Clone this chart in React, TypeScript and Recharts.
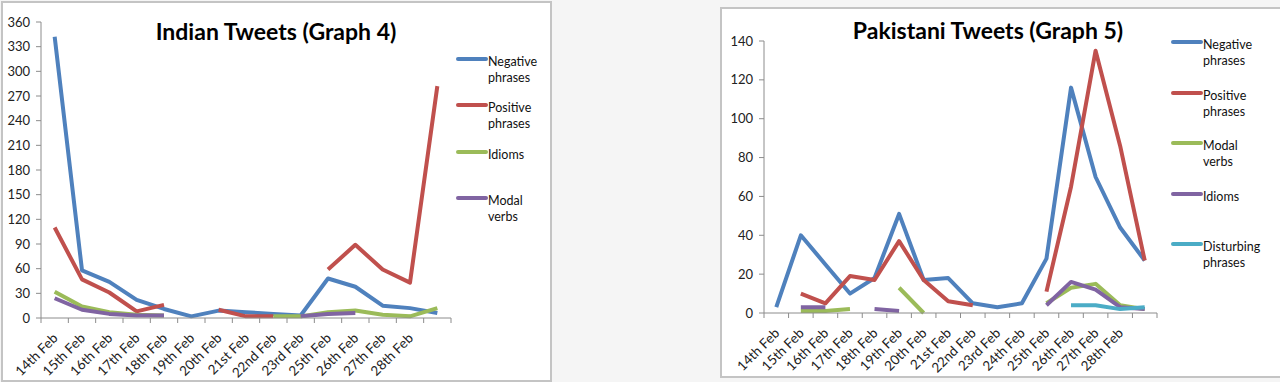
import React from 'react';
import { LineChart, Line, XAxis, YAxis } from 'recharts';

// Indian tweets (graph 4)
const indianDays = ['14th Feb', '15th Feb', '16th Feb', '17th Feb', '18th Feb', '19th Feb', '20th Feb', '21st Feb', '22nd Feb', '23rd Feb', '25th Feb', '26th Feb', '27th Feb', '28th Feb', ''];
const indianNegative = [342, 58, 44, 22, 11, 2, 9, 7, 5, 3, 48, 38, 15, 12, 6];
const indianPositive = [110, 47, 31, 8, 16, null, 10, 2, 2, null, 59, 89, 59, 43, 282];
const indianIdioms = [32, 14, 7, 4, 3, null, null, null, 2, 2, 7, 9, 4, 2, 12];
const indianModal = [24, 10, 5, 3, 3, null, null, null, null, 2, 5, 6, null, null, null];
const indianTicks = [0, 30, 60, 90, 120, 150, 180, 210, 240, 270, 300, 330, 360];

// Pakistani tweets (graph 5)
const pakDays = ['14th Feb', '15th Feb', '16th Feb', '17th Feb', '18th Feb', '19th Feb', '20th Feb', '21st Feb', '22nd Feb', '23rd Feb', '24th Feb', '25th Feb', '26th Feb', '27th Feb', '28th Feb', ''];
const pakNegative = [3, 40, 25, 10, 18, 51, 17, 18, 5, 3, 5, 28, 116, 70, 44, 27];
const pakPositive = [null, 10, 5, 19, 17, 37, 17, 6, 4, null, null, 11, 65, 135, 86, 27];
const pakModal = [null, 1, 1, 2, null, 13, 0, null, null, null, null, 5, 13, 15, 4, 2];
const pakIdioms = [null, 3, 3, null, 2, 1, null, null, null, null, null, 4, 16, 12, 3, 2];
const pakDisturbing = [null, null, null, null, null, null, null, null, null, null, null, null, 4, 4, 2, 3];
const pakTicks = [0, 20, 40, 60, 80, 100, 120, 140];

const BLUE = '#4f81bd';
const RED = '#c0504d';
const GREEN = '#9bbb59';
const PURPLE = '#8064a2';
const CYAN = '#4bacc6';
const FONT = 'Lato, "Open Sans", sans-serif';

const indianData = indianDays.map((day, i) => ({
  day,
  neg: indianNegative[i],
  pos: indianPositive[i],
  idioms: indianIdioms[i],
  modal: indianModal[i],
}));

const pakData = pakDays.map((day, i) => ({
  day,
  neg: pakNegative[i],
  pos: pakPositive[i],
  modal: pakModal[i],
  idioms: pakIdioms[i],
  dist: pakDisturbing[i],
}));

const indianSeries = [
  { key: 'neg', name: 'Negative phrases', color: BLUE },
  { key: 'pos', name: 'Positive phrases', color: RED },
  { key: 'idioms', name: 'Idioms', color: GREEN },
  { key: 'modal', name: 'Modal verbs', color: PURPLE },
];

const pakSeries = [
  { key: 'neg', name: 'Negative phrases', color: BLUE },
  { key: 'pos', name: 'Positive phrases', color: RED },
  { key: 'modal', name: 'Modal verbs', color: GREEN },
  { key: 'idioms', name: 'Idioms', color: PURPLE },
  { key: 'dist', name: 'Disturbing phrases', color: CYAN },
];

const DayTick = (props: any) => {
  const { x, y, payload } = props;
  return (
    <text
      x={x + 4}
      y={y + 12}
      transform={`rotate(-45, ${x + 4}, ${y + 12})`}
      textAnchor="end"
      fontSize={13.5}
      fontFamily={FONT}
      fill="#222"
    >
      {payload.value}
    </text>
  );
};

function Legend2({ series, left, top, step }: any) {
  return (
    <div style={{ position: 'absolute', left, top, fontFamily: FONT, fontSize: 12.5, color: '#111' }}>
      {series.map((s: any) => (
        <div key={s.key} style={{ display: 'flex', alignItems: 'flex-start', height: step }}>
          <svg width={32} height={6}>
            <line x1={2} y1={3} x2={30} y2={3} stroke={s.color} strokeWidth={4} strokeLinecap="round" />
          </svg>
          <div style={{ width: 62, lineHeight: '16px', marginTop: -2 }}>{s.name}</div>
        </div>
      ))}
    </div>
  );
}

function TweetChart({ data, series, slots, max, ticks, yWidth, margin }: any) {
  const boundaries = Array.from({ length: slots + 1 }, (_, i) => i);
  return (
    <LineChart width={560} height={382} data={data} margin={margin}>
      {/* plain axis line with Excel-style ticks between categories */}
      <XAxis
        type="number"
        dataKey="slotEdge"
        domain={[0, slots]}
        ticks={boundaries}
        allowDataOverflow
        height={1}
        tick={() => <g />}
        tickSize={5}
        tickLine={{ stroke: '#8c8c8c' }}
        axisLine={{ stroke: '#8c8c8c' }}
      />
      <XAxis
        xAxisId="c"
        dataKey="day"
        scale="band"
        interval={0}
        height={50}
        tickLine={false}
        axisLine={false}
        tick={<DayTick />}
      />
      <YAxis
        width={yWidth}
        domain={[0, max]}
        ticks={ticks}
        interval={0}
        tickSize={5}
        tickMargin={6}
        tickLine={{ stroke: '#8c8c8c' }}
        axisLine={{ stroke: '#8c8c8c' }}
        tick={{ fontSize: 13, fontFamily: FONT, fill: '#222' }}
      />
      {series.map((s: any) => (
        <Line
          key={s.key}
          xAxisId="c"
          dataKey={s.key}
          name={s.name}
          stroke={s.color}
          strokeWidth={4}
          dot={false}
          activeDot={false}
          isAnimationActive={false}
          strokeLinejoin="round"
        />
      ))}
    </LineChart>
  );
}

export default function App() {
  return (
    <div style={{ position: 'absolute', left: 0, top: 0, width: 1280, height: 382, background: '#f5f5f5', overflow: 'hidden' }}>
      <div style={{ position: 'absolute', left: 1, top: 1, width: 547, height: 377, background: '#fff', border: '2px solid #c4c4c4' }} />
      <div style={{ position: 'absolute', left: 720, top: 7, width: 600, height: 367, background: '#fff', border: '2px solid #c4c4c4' }} />

      <div style={{ position: 'absolute', left: 0, top: 0 }}>
        <TweetChart
          data={indianData}
          series={indianSeries}
          slots={indianDays.length}
          max={360}
          ticks={indianTicks}
          yWidth={30}
          margin={{ top: 22, right: 109, bottom: 13, left: 11 }}
        />
      </div>
      <div style={{ position: 'absolute', left: 720, top: 0 }}>
        <TweetChart
          data={pakData}
          series={pakSeries}
          slots={pakDays.length}
          max={140}
          ticks={pakTicks}
          yWidth={34}
          margin={{ top: 41, right: 123, bottom: 18, left: 10 }}
        />
      </div>

      <div style={{ position: 'absolute', left: 276, top: 17, transform: 'translateX(-50%)', whiteSpace: 'nowrap', fontFamily: FONT, fontWeight: 700, fontSize: 23, color: '#000' }}>
        Indian Tweets (Graph 4)
      </div>
      <div style={{ position: 'absolute', left: 988, top: 16, transform: 'translateX(-50%)', whiteSpace: 'nowrap', fontFamily: FONT, fontWeight: 700, fontSize: 23, color: '#000' }}>
        Pakistani Tweets (Graph 5)
      </div>

      <Legend2 series={indianSeries} left={456} top={56} step={46.3} />
      <Legend2 series={pakSeries} left={1171} top={39} step={50.5} />
    </div>
  );
}
